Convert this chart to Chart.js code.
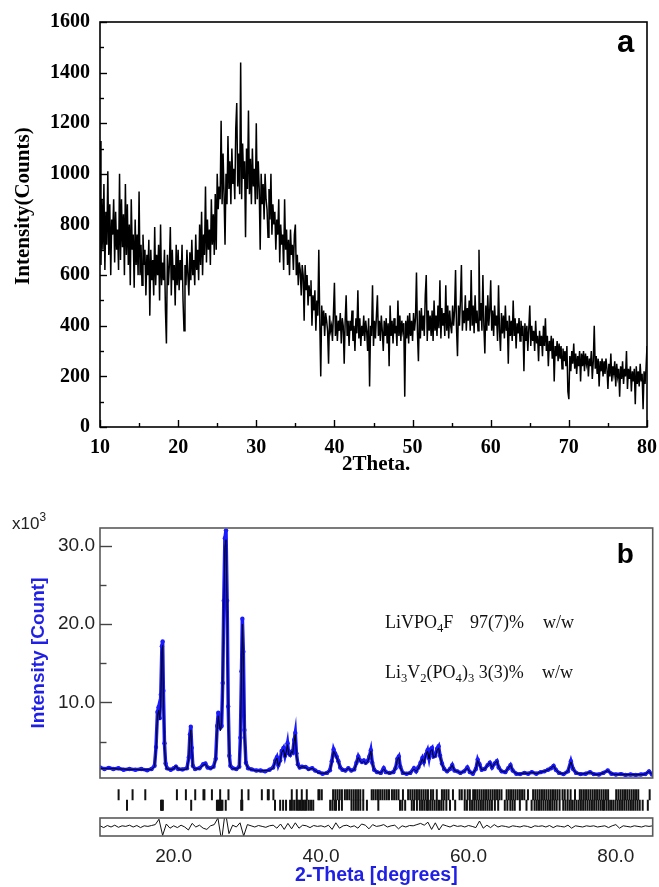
<!DOCTYPE html>
<html>
<head>
<meta charset="utf-8">
<title>XRD patterns (a) precursor, (b) Rietveld refinement</title>
<script src="https://cdn.jsdelivr.net/npm/chart.js@4.4.1/dist/chart.umd.min.js"></script>
<style>
    html, body { margin: 0; padding: 0; background: #fff; }
    #page { position: relative; width: 659px; height: 887px; overflow: hidden; background: #fff; }
    #page canvas { position: absolute; left: 0; }
</style>
</head>
<body>
<div id="page">
    <canvas id="precursorChart" width="659" height="480" style="top:0"></canvas>
    <canvas id="refineChart" width="659" height="312" style="top:470px"></canvas>
    <canvas id="hklChart" width="659" height="36" style="top:782px"></canvas>
    <canvas id="diffChart" width="659" height="87" style="top:800px"></canvas>
</div>
<script>
// ---------- panel (a): precursor pattern, one reading every 0.125 deg from 10 deg ----------
const TOP_START = 10;
const TOP_STEP = 0.125;
const topIntensity = [
    // 10
    1130, 640, 900, 700, 960, 620, 850, 720, 1010, 680, 880, 600, 820, 760, 900, 650, 850, 700, 780, 620,
    1000, 660, 900, 710, 840, 600, 960, 680, 880, 640, 800, 560, 900, 700, 760, 550, 820, 640, 760, 600,
    // 15
    930, 600, 720, 560, 760, 640, 700, 520, 680, 600, 740, 440, 700, 580, 660, 520, 790, 560, 680, 600,
    720, 500, 800, 560, 650, 580, 700, 460, 330, 680, 560, 640, 790, 520, 700, 580, 640, 480, 720, 560,
    // 20
    700, 540, 660, 580, 720, 500, 380, 640, 560, 700, 600, 520, 690, 580, 740, 600, 660, 560, 760, 620,
    700, 580, 800, 640, 850, 600, 760, 680, 950, 650, 820, 700, 780, 640, 900, 720, 840, 680, 920, 700,
    // 25
    1000, 860, 950, 900, 1210, 880, 1080, 920, 720, 1000, 880, 1150, 940, 1050, 880, 1100, 960, 1020, 900, 1180,
    1280, 950, 1080, 920, 1440, 900, 1120, 980, 1050, 750, 1100, 940, 1250, 920, 1060, 880, 1100, 950, 1020, 880,
    // 30
    1200, 900, 1050, 940, 700, 1000, 880, 960, 820, 1000, 900, 860, 750, 940, 820, 1000, 760, 880, 800, 850,
    700, 820, 760, 900, 650, 800, 720, 760, 620, 900, 700, 780, 640, 740, 600, 780, 680, 720, 620, 760,
    // 35
    800, 600, 680, 560, 650, 620, 520, 640, 600, 420, 640, 540, 600, 480, 560, 520, 580, 400, 520, 460,
    540, 380, 500, 440, 700, 420, 200, 480, 400, 460, 360, 450, 420, 380, 250, 440, 380, 400, 340, 450,
    // 40
    570, 360, 440, 340, 420, 380, 450, 330, 430, 400, 250, 420, 520, 360, 420, 320, 420, 380, 460, 340,
    400, 300, 430, 370, 540, 350, 430, 320, 400, 360, 440, 340, 420, 380, 300, 430, 160, 400, 360, 560,
    // 45
    320, 420, 350, 440, 520, 360, 420, 340, 440, 380, 300, 420, 360, 430, 330, 410, 240, 480, 360, 420,
    330, 430, 370, 400, 320, 500, 360, 440, 340, 420, 380, 410, 120, 420, 350, 440, 330, 450, 360, 420,
    // 50
    340, 450, 380, 430, 610, 370, 260, 460, 350, 470, 380, 440, 360, 520, 600, 340, 460, 380, 440, 360,
    460, 340, 500, 380, 440, 360, 480, 390, 580, 350, 470, 400, 450, 360, 560, 380, 480, 350, 460, 400,
    // 55
    370, 480, 400, 460, 620, 390, 280, 480, 400, 500, 640, 380, 460, 410, 520, 380, 470, 420, 500, 380,
    620, 400, 480, 370, 520, 410, 460, 380, 700, 420, 490, 380, 600, 400, 290, 480, 380, 520, 400, 460,
    // 60
    580, 380, 460, 360, 480, 400, 440, 340, 560, 380, 300, 450, 370, 440, 350, 480, 380, 420, 250, 440,
    360, 420, 340, 500, 360, 430, 310, 410, 370, 430, 340, 420, 360, 400, 220, 410, 340, 400, 300, 390,
    // 65
    480, 320, 400, 340, 380, 300, 420, 330, 360, 260, 380, 320, 360, 280, 400, 320, 430, 300, 360, 240,
    340, 300, 360, 270, 350, 180, 320, 280, 340, 260, 330, 270, 320, 230, 310, 260, 300, 240, 320, 140,
    // 70
    110, 280, 220, 300, 250, 330, 230, 290, 210, 280, 240, 300, 180, 290, 240, 300, 220, 290, 250, 280,
    200, 270, 240, 300, 190, 260, 400, 230, 280, 210, 270, 160, 260, 220, 270, 200, 260, 210, 270, 230,
    // 75
    150, 250, 200, 290, 180, 240, 210, 260, 160, 250, 200, 230, 120, 240, 190, 260, 170, 230, 200, 300,
    150, 230, 190, 240, 140, 220, 180, 230, 90, 240, 170, 220, 160, 250, 180, 210, 70, 220, 170, 230,
    // 80
    320
];
const topXTicks = [10, 15, 20, 25, 30, 35, 40, 45, 50, 55, 60, 65, 70, 75, 80];
const topYTicks = [0, 100, 200, 300, 400, 500, 600, 700, 800, 900, 1000, 1100, 1200, 1300, 1400, 1500, 1600];

// ---------- panel (b): refinement, intensities in 10^3 counts ----------
const refTheta = [
    10.0, 10.6, 11.2, 11.8, 12.5, 13.2, 14.0, 14.8, 15.6, 16.4, 17.0,
    17.4, 17.6, 17.8, 17.95, 18.1, 18.25, 18.4, 18.5, 18.6, 18.75, 18.9, 19.1, 19.6,
    20.0, 20.3, 20.6, 21.2, 21.8, 22.05, 22.2, 22.32, 22.45, 22.6, 22.9, 23.5, 24.0, 24.3, 24.6, 25.0, 25.4,
    25.7, 25.9, 26.05, 26.2, 26.35, 26.5, 26.65, 26.8, 26.95, 27.1, 27.25, 27.4, 27.55, 27.7, 28.0, 28.5,
    28.9, 29.05, 29.2, 29.32, 29.45, 29.6, 29.8, 30.1, 30.6, 31.2, 31.8, 32.4, 33.0, 33.5,
    33.8, 34.0, 34.2, 34.45, 34.65, 34.9, 35.1, 35.3, 35.45, 35.6, 35.8, 36.0, 36.15, 36.35, 36.5, 36.65, 36.85, 37.1, 37.4,
    37.9, 38.3, 38.8, 39.2, 39.7, 40.2, 40.8, 41.2, 41.45, 41.7, 41.9, 42.1, 42.35, 42.6, 42.9, 43.3, 43.7, 44.1, 44.5,
    44.8, 45.05, 45.3, 45.55, 45.8, 46.05, 46.3, 46.55, 46.75, 46.95, 47.2, 47.6, 48.1, 48.5, 48.8, 49.3, 49.8,
    50.1, 50.35, 50.55, 50.75, 51.1, 51.6, 52.1, 52.6, 52.9, 53.2, 53.5, 53.75, 53.95, 54.2, 54.45, 54.65, 54.85, 55.05, 55.25, 55.5, 55.75, 55.95, 56.15, 56.4, 56.7,
    57.1, 57.5, 57.8, 58.1, 58.5, 58.9, 59.4, 59.85, 60.2, 60.6, 61.0, 61.25, 61.5, 61.8, 62.2, 62.6, 62.9, 63.2, 63.55, 63.85, 64.1, 64.5,
    65.0, 65.4, 65.7, 66.0, 66.5, 67.0, 67.6, 68.1, 68.6, 69.2, 69.8, 70.3, 70.8, 71.2, 71.55, 71.85, 72.3, 72.9, 73.5, 73.9,
    74.2, 74.6, 75.2, 75.9, 76.5, 77.0, 77.7, 78.3, 78.9, 79.4, 80.0, 80.7, 81.3, 82.0, 82.7, 83.4, 84.0, 84.5, 84.9
];
const refCalc = [
    1.6, 1.55, 1.6, 1.55, 1.5, 1.5, 1.45, 1.45, 1.4, 1.4, 1.45,
    1.8, 4.0, 8.3, 9.0, 7.8, 10.5, 16.8, 17.3, 11, 4.5, 2.0, 1.5, 1.45,
    1.5, 1.9, 1.5, 1.4, 1.5, 2.8, 5.6, 6.5, 4.0, 1.8, 1.5, 1.55, 2.0, 2.15, 1.7, 1.55, 1.7,
    2.6, 6.5, 8.3, 7.0, 6.4, 7.5, 12, 22, 29.8, 30.8, 22, 9, 3.0, 1.8, 1.55, 1.5,
    1.7, 5.0, 13.5, 20.0, 16, 6.0, 2.2, 1.6, 1.4, 1.3, 1.25, 1.3, 1.35, 1.6,
    2.5, 2.9, 1.9, 2.5, 3.6, 4.0, 3.0, 3.8, 4.6, 3.4, 3.2, 3.8, 3.5, 5.0, 5.9, 3.4, 2.0, 1.6, 1.8,
    1.7, 1.4, 1.6, 1.3, 1.0, 0.95, 1.0, 1.3, 2.3, 3.8, 3.4, 3.0, 2.4, 1.7, 1.4, 1.3, 1.6, 1.3, 1.4,
    2.2, 3.0, 2.5, 2.3, 2.5, 2.2, 2.4, 3.0, 3.8, 2.2, 1.4, 1.1, 1.0, 1.5, 1.1, 0.95, 1.1,
    1.6, 2.7, 3.0, 1.7, 1.0, 0.9, 1.0, 1.5, 1.2, 1.6, 2.2, 2.8, 2.3, 3.2, 3.8, 2.8, 3.8, 4.0, 3.0, 3.1, 3.9, 4.2, 3.1, 2.1, 1.5,
    1.2, 1.5, 2.0, 1.3, 1.2, 1.0, 1.2, 1.6, 1.1, 0.95, 1.5, 2.6, 2.0, 1.4, 1.5, 2.0, 2.3, 1.7, 2.2, 2.5, 1.7, 1.2,
    1.1, 1.6, 2.0, 1.3, 0.9, 0.85, 1.0, 0.9, 1.1, 0.9, 1.1, 1.2, 1.4, 1.6, 1.9, 1.4, 1.0, 0.85, 1.2, 2.4,
    1.5, 1.0, 0.85, 0.9, 1.1, 0.85, 0.8, 1.0, 1.3, 0.9, 0.8, 0.85, 0.75, 0.8, 0.75, 0.8, 0.85, 1.2, 0.8
];
const refObs = [
    1.7, 1.5, 1.65, 1.5, 1.6, 1.4, 1.5, 1.4, 1.5, 1.35, 1.5,
    1.9, 4.3, 8.8, 9.4, 8.0, 11, 17.2, 17.8, 11.5, 4.8, 2.2, 1.6, 1.4,
    1.6, 1.8, 1.5, 1.45, 1.6, 3.0, 5.9, 6.9, 4.2, 1.9, 1.5, 1.6, 2.1, 2.2, 1.7, 1.6, 1.8,
    2.8, 7.0, 8.7, 7.3, 6.8, 7.0, 12.5, 23, 31.0, 32.0, 23, 9.5, 3.2, 1.9, 1.6, 1.5,
    1.8, 5.5, 14.0, 20.7, 16.5, 6.5, 2.3, 1.6, 1.45, 1.3, 1.3, 1.2, 1.4, 1.7,
    2.6, 3.0, 2.0, 2.6, 3.8, 4.2, 3.2, 4.0, 4.8, 3.5, 3.3, 3.7, 3.6, 5.2, 6.1, 3.5, 2.1, 1.7, 1.8,
    1.75, 1.5, 1.6, 1.3, 1.1, 0.9, 1.0, 1.35, 2.5, 4.0, 3.5, 3.1, 2.5, 1.7, 1.4, 1.3, 1.6, 1.3, 1.45,
    2.3, 3.1, 2.6, 2.4, 2.6, 2.3, 2.5, 3.1, 3.9, 2.3, 1.4, 1.1, 1.0, 1.6, 1.1, 1.0, 1.1,
    1.6, 2.8, 3.1, 1.8, 1.0, 0.9, 1.0, 1.6, 1.2, 1.7, 2.3, 2.9, 2.4, 3.3, 3.9, 2.9, 4.0, 4.2, 3.1, 3.2, 4.1, 4.4, 3.2, 2.2, 1.5,
    1.2, 1.5, 2.0, 1.3, 1.2, 1.0, 1.2, 1.7, 1.1, 0.9, 1.5, 2.7, 2.1, 1.4, 1.5, 2.0, 2.3, 1.7, 2.2, 2.5, 1.7, 1.2,
    1.1, 1.6, 2.0, 1.3, 0.9, 0.85, 1.0, 0.9, 1.1, 0.9, 1.1, 1.2, 1.4, 1.6, 1.9, 1.4, 1.0, 0.85, 1.2, 2.5,
    1.5, 1.0, 0.85, 0.9, 1.1, 0.85, 0.8, 1.0, 1.3, 0.9, 0.8, 0.85, 0.75, 0.8, 0.75, 0.8, 0.85, 1.2, 0.8
];

// Bragg positions (deg) of the two phases
const hklLiVPO4F = [
    12.53, 14.43, 16.16, 20.46, 21.68, 22.95, 24.07, 24.2, 25.22, 26.34, 27.47, 29.29, 30.19, 32.01, 32.82, 32.95, 33.58,
    36.08, 36.76, 37.44, 38.12, 39.7, 39.85, 40.16, 41.7, 42.0, 42.3, 42.6, 42.9, 43.3, 43.6, 43.9, 44.2, 44.5, 44.8,
    45.1, 45.4, 45.8, 46.95, 47.2, 47.5, 47.8, 48.1, 48.4, 48.7, 49.0, 49.3, 49.7, 50.0, 50.3, 50.6, 51.2,
    51.9, 52.2, 52.5, 52.8, 53.1, 53.4, 53.7, 54.0, 54.3, 54.6, 55.0, 55.3, 55.8, 56.5, 56.8, 57.1, 57.4, 58.0,
    58.9, 59.2, 59.6, 60.0, 60.3, 60.75, 61.0, 61.3, 61.6, 61.9, 62.2, 62.5, 62.8, 63.1, 63.4, 63.7, 64.0, 64.3, 64.6,
    65.3, 65.6, 65.9, 66.2, 66.5, 66.8, 67.1, 67.4, 67.7, 68.2, 68.9, 69.2, 69.5, 69.8, 70.1, 70.4, 70.7, 71.0, 71.3,
    71.6, 71.9, 72.2, 72.5, 72.9, 73.2, 73.6, 74.0, 74.6, 75.25, 75.5, 75.8, 76.1, 76.4, 76.7, 77.0, 77.3, 77.6, 77.9,
    78.2, 78.5, 78.8, 79.1, 80.2, 80.5, 80.8, 81.1, 81.4, 81.7, 82.0, 82.3, 82.6, 82.9, 83.2, 84.75
];
const hklLi3V2PO43 = [
    13.67, 18.3, 18.42, 18.55, 22.4, 25.9, 26.05, 26.2, 26.35, 26.5, 26.65, 27.1, 29.2, 29.35, 33.8, 34.5, 34.9, 35.3,
    35.85, 36.1, 36.4, 36.7, 36.9, 37.1, 37.3, 37.5, 37.7, 37.9, 38.1, 38.4, 38.7, 39.0, 41.3, 41.6, 41.9, 42.1, 42.5,
    42.9, 44.2, 44.5, 44.8, 45.1, 45.4, 45.8, 46.3, 47.85, 50.8, 51.1, 51.5, 52.4, 52.7, 53.1, 53.5, 53.8, 54.1, 54.4,
    54.6, 54.9, 55.2, 55.5, 55.8, 56.1, 56.4, 56.7, 57.1, 57.6, 58.3, 59.6, 59.9, 60.3, 60.6, 60.9, 61.2, 61.5, 61.8,
    62.1, 62.4, 62.7, 63.0, 63.3, 63.7, 64.15, 65.05, 65.4, 65.8, 66.1, 66.4, 67.1, 68.0, 68.7, 69.1, 69.4, 69.7, 70.0,
    70.3, 70.6, 70.9, 71.2, 71.5, 71.8, 72.1, 72.5, 73.0, 73.3, 73.6, 73.9, 74.2, 74.5, 74.8, 75.1, 75.4, 75.7, 76.0,
    76.3, 76.6, 76.9, 77.2, 77.5, 77.8, 78.1, 78.4, 78.6, 78.9, 79.2, 79.5, 79.8, 80.1, 80.4, 80.7, 81.0, 81.3, 81.6,
    81.9, 82.2, 82.5, 82.8, 83.1, 83.4, 83.8, 84.5
];

// obs - calc difference, one value every 0.5 deg from 10 deg
const DIFF_START = 10;
const DIFF_STEP = 0.5;
const diffCurve = [
    0.1, -0.2, 0.15, -0.1, 0.2, -0.15, 0.1, 0, 0.2, -0.1,        // 10
    0.15, -0.2, 0.1, 0, 0.15, 0.3, 1.2, -1.5, 0.4, -0.3,         // 15
    0.1, -0.2, 0.2, -0.1, -0.6, 0.5, -0.1, 0.2, -0.3, -0.5,      // 20
    0.1, 0.3, 1.4, -2.4, 2.6, -1.2, 0.2, -0.1, 0.6, -1.6,        // 25
    0.3, 0.1, -0.1, 0.15, 0, -0.15, 0.1, 0.2, -0.3, 0.4,         // 30
    -0.5, 0.5, -0.4, 0.6, -0.3, 0.2, 0.1, -0.2, 0.15, 0,         // 35
    0.1, -0.1, 0.2, -0.5, 0.6, -0.3, 0.1, 0.2, -0.1, 0.1,        // 40
    -0.3, 0.4, 0.2, -0.4, 0.3, 0, 0.1, 0.3, -0.1, 0.1,           // 45
    0.2, -0.4, 0.1, -0.1, 0.15, 0.1, 0.3, 0.5, 0.2, 0.7,         // 50
    -0.5, 0.6, -0.6, 0.3, 0.1, -0.1, 0.2, 0, 0.1, -0.1,          // 55
    0.15, 0, -0.2, 0.9, -0.3, 0.2, -0.2, 0.3, -0.1, 0.1,         // 60
    0, -0.15, 0.1, 0, -0.1, 0.1, 0, -0.2, 0.1, 0,                // 65
    0.1, -0.1, 0.15, -0.2, 0.1, 0, -0.1, 0.2, -0.3, 0.1,         // 70
    0, -0.1, 0.1, 0, 0.1, -0.1, 0, 0.1, -0.2, 0.1,               // 75
    0.3, -0.3, 0.1, 0, -0.1, 0.1, 0, -0.1, 0.1, 0,               // 80
    0.1                                                          // 85
];
const botXTicks = [20, 40, 60, 80];
const botYTicks = [5, 10, 15, 20, 25, 30];

// colours and fonts
const colors = {
    ink: '#000000',
    frameGray: '#5a5a5a',
    tickGray: '#444444',
    blue: '#1a1aff',
    titleBlue: '#1f1fe6'
};
const SERIF = '"Liberation Serif", "Times New Roman", serif';
const SANS = '"Liberation Sans", Arial, sans-serif';

/**
 * Box round the plot area
 */
const framePlugin = {
    id: 'frame',
    afterDraw(chart, args, opts) {
        const a = chart.chartArea, ctx = chart.ctx;
        ctx.save();
        ctx.strokeStyle = opts.color || '#000';
        ctx.lineWidth = opts.width || 1;
        ctx.strokeRect(a.left, a.top, a.right - a.left, a.bottom - a.top);
        ctx.restore();
    }
};

/**
 * Tick marks pointing into the plot, long on labelled ticks
 */
const innerTicksPlugin = {
    id: 'innerTicks',
    afterDraw(chart, args, opts) {
        const a = chart.chartArea, ctx = chart.ctx;
        ctx.save();
        ctx.strokeStyle = opts.color;
        ctx.lineWidth = opts.width;
        opts.axes.forEach(id => {
            const s = chart.scales[id];
            s.ticks.forEach(t => {
                const len = t.major ? opts.major : opts.minor;
                const p = Math.round(s.getPixelForValue(t.value)) + 0.5;
                ctx.beginPath();
                if (s.isHorizontal()) { ctx.moveTo(p, a.bottom); ctx.lineTo(p, a.bottom - len); }
                else { ctx.moveTo(a.left, p); ctx.lineTo(a.left + len, p); }
                ctx.stroke();
            });
        });
        ctx.restore();
    }
};

/**
 * Free text (panel tags, phase fractions) with sub/superscripts
 */
const notesPlugin = {
    id: 'notes',
    afterDraw(chart, args, opts) {
        const a = chart.chartArea, ctx = chart.ctx;
        ctx.save();
        ctx.textBaseline = 'alphabetic';
        ctx.textAlign = 'left';
        opts.items.forEach(it => {
            let x = (it.fromRight ? a.right : a.left) + it.dx;
            const y = a.top + it.dy;
            ctx.fillStyle = it.color || '#000';
            it.parts.forEach(([str, kind]) => {
                const size = kind ? it.size * 0.7 : it.size;
                ctx.font = `${it.weight || 'normal'} ${size}px ${it.family}`;
                const shift = kind === 'sub' ? it.size * 0.22 : kind === 'sup' ? -it.size * 0.48 : 0;
                ctx.fillText(str, x, y + shift);
                x += ctx.measureText(str).width;
            });
        });
        ctx.restore();
    }
};

const noTooltip = { legend: { display: false }, tooltip: { enabled: false } };

// keep label overhang from shrinking the plot box
const fixWidth = w => s => { s.width = w; s.paddingTop = 0; s.paddingBottom = 0; };
const fixHeight = h => s => { s.height = h; s.paddingLeft = 0; s.paddingRight = 0; };

/**
 * Panel (a)
 */
function initializePrecursorChart() {
    const ctx = document.getElementById('precursorChart');
    const tickFont = { family: SERIF, size: 20, weight: 'bold' };
    const titleFont = { family: SERIF, size: 21, weight: 'bold' };

    new Chart(ctx, {
        type: 'line',
        data: {
            datasets: [{
                data: topIntensity.map((y, i) => ({ x: TOP_START + i * TOP_STEP, y })),
                borderColor: colors.ink,
                borderWidth: 1.5,
                pointRadius: 0,
                tension: 0
            }]
        },
        options: {
            responsive: false,
            animation: false,
            layout: { padding: { left: 7, top: 22, right: 12, bottom: 0 } },
            plugins: {
                ...noTooltip,
                frame: { color: colors.ink, width: 1.6 },
                innerTicks: { axes: ['x', 'y'], major: 7, minor: 4, color: colors.ink, width: 1.4 },
                notes: { items: [
                    { parts: [['a', '']], fromRight: true, dx: -30, dy: 30, size: 31, weight: 'bold', family: SANS }
                ] }
            },
            scales: {
                x: {
                    type: 'linear', min: 10, max: 80,
                    afterBuildTicks: s => { s.ticks = topXTicks.map(v => ({ value: v, major: v % 10 === 0 })); },
                    afterFit: fixHeight(53),
                    grid: { display: false, drawTicks: false },
                    border: { display: false },
                    ticks: { autoSkip: false, maxRotation: 0, padding: 9, color: colors.ink, font: tickFont,
                             callback: (v, i, t) => t[i].major ? v : '' },
                    title: { display: true, text: ' 2Theta.', color: colors.ink, font: titleFont, padding: { top: 0, bottom: 3 } }
                },
                y: {
                    min: 0, max: 1600,
                    afterBuildTicks: s => { s.ticks = topYTicks.map(v => ({ value: v, major: v % 200 === 0 })); },
                    afterFit: fixWidth(93),
                    grid: { display: false, drawTicks: false },
                    border: { display: false },
                    ticks: { autoSkip: false, padding: 10, color: colors.ink, font: tickFont,
                             callback: (v, i, t) => t[i].major ? v : '' },
                    // leading blanks lift the title a little above the axis middle, as in the figure
                    title: { display: true, text: '       Intensity(Counts)', color: colors.ink, font: titleFont, padding: { top: 4, bottom: 0 } }
                }
            }
        },
        plugins: [framePlugin, innerTicksPlugin, notesPlugin]
    });
}

/**
 * Panel (b): observed points and calculated profile
 */
function initializeRefinementChart() {
    const ctx = document.getElementById('refineChart');

    new Chart(ctx, {
        type: 'line',
        data: {
            datasets: [
                {
                    label: 'calc',
                    data: refTheta.map((t, i) => ({ x: t, y: refCalc[i] })),
                    borderColor: colors.ink,
                    borderWidth: 1,
                    pointRadius: 0,
                    tension: 0,
                    order: 0
                },
                {
                    label: 'obs',
                    data: refTheta.map((t, i) => ({ x: t, y: refObs[i] })),
                    borderColor: colors.blue,
                    borderWidth: 3.5,
                    pointRadius: 2.2,
                    pointBackgroundColor: colors.blue,
                    pointBorderWidth: 0,
                    tension: 0,
                    order: 1
                }
            ]
        },
        options: {
            responsive: false,
            animation: false,
            layout: { padding: { left: 27, top: 58, right: 6.3, bottom: 0 } },
            plugins: {
                ...noTooltip,
                frame: { color: colors.frameGray, width: 1.6 },
                innerTicks: { axes: ['y'], major: 12, minor: 6.5, color: colors.tickGray, width: 1.4 },
                notes: { items: [
                    { parts: [['x10', ''], ['3', 'sup']], dx: -88, dy: 1, size: 17, family: SANS, color: '#222' },
                    { parts: [['b', '']], fromRight: true, dx: -36, dy: 35, size: 28, weight: 'bold', family: SANS },
                    { parts: [['LiVPO', ''], ['4', 'sub'], ['F', '']], dx: 285, dy: 100, size: 18, family: SERIF, color: '#111' },
                    { parts: [['97(7)%', '']], dx: 370, dy: 100, size: 18, family: SERIF, color: '#111' },
                    { parts: [['w/w', '']], dx: 443, dy: 100, size: 18, family: SERIF, color: '#111' },
                    { parts: [['Li', ''], ['3', 'sub'], ['V', ''], ['2', 'sub'], ['(PO', ''], ['4', 'sub'], [')', ''], ['3', 'sub'], [' 3(3)%', '']],
                      dx: 285, dy: 150, size: 18, family: SERIF, color: '#111' },
                    { parts: [['w/w', '']], dx: 442, dy: 150, size: 18, family: SERIF, color: '#111' }
                ] }
            },
            scales: {
                x: { type: 'linear', min: 10, max: 85, display: false },
                y: {
                    min: 0.35, max: 32.3,
                    afterBuildTicks: s => { s.ticks = botYTicks.map(v => ({ value: v, major: v % 10 === 0 })); },
                    afterFit: fixWidth(73),
                    grid: { display: false, drawTicks: false },
                    border: { display: false },
                    ticks: { autoSkip: false, padding: 5, color: '#222', font: { family: SANS, size: 19 },
                             callback: (v, i, t) => t[i].major ? v.toFixed(1) : '' },
                    title: { display: true, text: 'Intensity [Count]', color: colors.titleBlue,
                             font: { family: SANS, size: 19, weight: 'bold' }, padding: { top: 0, bottom: 0 } }
                }
            }
        },
        plugins: [framePlugin, innerTicksPlugin, notesPlugin]
    });
}

/**
 * Reflection markers, one row per phase
 */
function initializeHklChart() {
    const ctx = document.getElementById('hklChart');
    const marker = {
        pointStyle: 'line', pointRadius: 5.5, pointRotation: 90,
        pointBorderColor: '#111', pointBorderWidth: 2, clip: false
    };

    new Chart(ctx, {
        type: 'scatter',
        data: {
            datasets: [
                { data: hklLiVPO4F.map(t => ({ x: t, y: 1.5 })), ...marker },
                { data: hklLi3V2PO43.map(t => ({ x: t, y: 0.5 })), ...marker }
            ]
        },
        options: {
            responsive: false,
            animation: false,
            layout: { padding: { left: 100, top: 0, right: 6.3, bottom: 0 } },
            plugins: { ...noTooltip },
            scales: {
                x: { type: 'linear', min: 10, max: 85, display: false },
                y: { min: 0, max: 2, display: false }
            }
        }
    });
}

/**
 * Difference curve and the 2-theta axis
 */
function initializeDiffChart() {
    const ctx = document.getElementById('diffChart');

    new Chart(ctx, {
        type: 'line',
        data: {
            datasets: [{
                data: diffCurve.map((d, i) => ({ x: DIFF_START + i * DIFF_STEP, y: d })),
                borderColor: '#111',
                borderWidth: 1,
                pointRadius: 0,
                tension: 0
            }]
        },
        options: {
            responsive: false,
            animation: false,
            layout: { padding: { left: 100, top: 18, right: 6.3, bottom: 0 } },
            plugins: {
                ...noTooltip,
                frame: { color: colors.frameGray, width: 1.6 }
            },
            scales: {
                x: {
                    type: 'linear', min: 10, max: 85,
                    afterBuildTicks: s => { s.ticks = botXTicks.map(v => ({ value: v })); },
                    afterFit: fixHeight(51),
                    grid: { display: false, drawTicks: false },
                    border: { display: false },
                    ticks: { autoSkip: false, maxRotation: 0, padding: 9, color: '#222', font: { family: SANS, size: 19 },
                             callback: v => v.toFixed(1) },
                    title: { display: true, text: '2-Theta [degrees]', color: colors.titleBlue,
                             font: { family: SANS, size: 19.5, weight: 'bold' }, padding: { top: 0, bottom: 0 } }
                },
                y: { min: -1.6, max: 1.4, display: false }
            }
        },
        plugins: [framePlugin]
    });
}

function initializeAllCharts() {
    initializePrecursorChart();
    initializeRefinementChart();
    initializeHklChart();
    initializeDiffChart();
}

document.addEventListener('DOMContentLoaded', initializeAllCharts);
</script>
</body>
</html>
